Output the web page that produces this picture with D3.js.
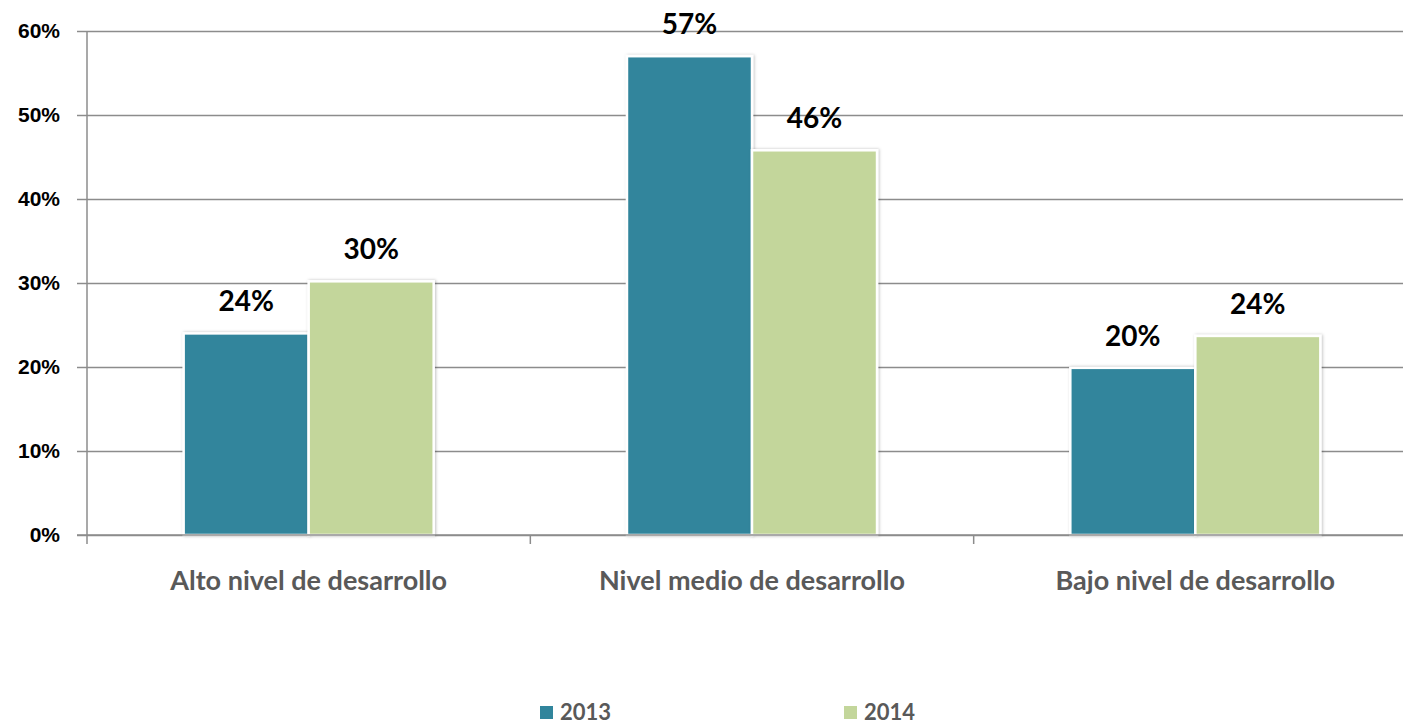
<!DOCTYPE html>
<html>
<head>
<meta charset="utf-8">
<script src="https://cdn.jsdelivr.net/npm/d3@7"></script>
<style>
  body { margin: 0; background: #fff; }
  svg { display: block; font-family: Lato, "Open Sans", sans-serif; }
</style>
</head>
<body>
<div id="chart"></div>
<script>
// categories and series
var categories = ["Alto nivel de desarrollo", "Nivel medio de desarrollo", "Bajo nivel de desarrollo"];
var seriesNames = ["2013", "2014"];
var values2013 = [0.24, 0.57, 0.199];
var values2014 = [0.302, 0.458, 0.237];
var yTicks = [0, 0.1, 0.2, 0.3, 0.4, 0.5, 0.6];
var colors = ["#31859c", "#c3d69b"];

var width = 1403, height = 728;
var margin = { left: 87, top: 31, bottom: 535, right: 1417 };

var svg = d3.select("#chart").append("svg")
  .attr("width", width)
  .attr("height", height);

// soft shadow for bars
var defs = svg.append("defs");
var f = defs.append("filter").attr("id", "shadow")
  .attr("x", "-10%").attr("y", "-10%").attr("width", "120%").attr("height", "120%");
f.append("feDropShadow").attr("dx", 1).attr("dy", 0).attr("stdDeviation", 1.5)
  .attr("flood-color", "#000").attr("flood-opacity", 0.25);

var y = d3.scaleLinear().domain([0, 0.6]).range([margin.bottom, margin.top]);

var x0 = d3.scaleBand().domain(categories)
  .range([margin.left, margin.right])
  .paddingInner(0.436).paddingOuter(0.218);

var x1 = d3.scaleBand().domain(seriesNames).range([0, x0.bandwidth()]);

// gridlines + y axis
var yAxis = d3.axisLeft(y).tickValues(yTicks).tickFormat(d3.format(".0%")).tickSize(10).tickPadding(17);
var gy = svg.append("g").attr("transform", "translate(" + margin.left + ",0)").call(yAxis);
gy.select(".domain").remove();
gy.selectAll(".tick line").attr("stroke", "#8c8c8c").attr("stroke-width", 1.5);
gy.selectAll(".tick line").clone()
  .attr("x1", 0).attr("x2", width - margin.left)
  .attr("stroke", "#8c8c8c").attr("stroke-width", 1.5);
gy.selectAll(".tick text")
  .attr("font-size", 21).attr("font-weight", "bold").attr("fill", "#000");

// vertical axis line
svg.append("line")
  .attr("x1", margin.left).attr("x2", margin.left)
  .attr("y1", margin.top).attr("y2", margin.bottom + 9)
  .attr("stroke", "#8c8c8c").attr("stroke-width", 1.5);

// category boundary ticks
var step = x0.step();
svg.selectAll(".ctick").data(categories).enter().append("line")
  .attr("class", "ctick")
  .attr("x1", function (d, i) { return margin.left + (i + 1) * step; })
  .attr("x2", function (d, i) { return margin.left + (i + 1) * step; })
  .attr("y1", margin.bottom).attr("y2", margin.bottom + 9)
  .attr("stroke", "#8c8c8c").attr("stroke-width", 1.5);

// bars
var data = categories.map(function (c, i) {
  return { cat: c, vals: [values2013[i], values2014[i]] };
});

var groups = svg.selectAll(".grp").data(data).enter().append("g")
  .attr("class", "grp")
  .attr("transform", function (d) { return "translate(" + x0(d.cat) + ",0)"; });

groups.selectAll("rect").data(function (d) {
  return d.vals.map(function (v, j) { return { key: seriesNames[j], v: v, j: j }; });
}).enter().append("rect")
  .attr("x", function (d) { return x1(d.key); })
  .attr("width", x1.bandwidth())
  .attr("y", function (d) { return y(d.v); })
  .attr("height", function (d) { return y(0) - y(d.v); })
  .attr("fill", function (d) { return colors[d.j]; })
  .attr("stroke", "#fff").attr("stroke-width", 2.5)
  .attr("filter", "url(#shadow)");

groups.selectAll(".lbl").data(function (d) {
  return d.vals.map(function (v, j) { return { key: seriesNames[j], v: v }; });
}).enter().append("text")
  .attr("class", "lbl")
  .attr("x", function (d) { return x1(d.key) + x1.bandwidth() / 2; })
  .attr("y", function (d) { return y(d.v) - 22; })
  .attr("text-anchor", "middle")
  .attr("font-size", 28).attr("font-weight", "bold").attr("fill", "#000")
  .text(function (d) { return d3.format(".0%")(d.v); });

// x axis baseline (drawn over bars)
svg.append("line")
  .attr("x1", margin.left - 10).attr("x2", width)
  .attr("y1", margin.bottom).attr("y2", margin.bottom)
  .attr("stroke", "#8c8c8c").attr("stroke-width", 1.5);

// category labels
svg.selectAll(".cat").data(categories).enter().append("text")
  .attr("class", "cat")
  .attr("x", function (d) { return x0(d) + x0.bandwidth() / 2; })
  .attr("y", 590)
  .attr("text-anchor", "middle")
  .attr("font-size", 27).attr("font-weight", "bold").attr("fill", "#595959")
  .text(function (d) { return d; });

// legend
var legX = [540, 844];
var leg = svg.selectAll(".leg").data(seriesNames).enter().append("g")
  .attr("class", "leg")
  .attr("transform", function (d, i) { return "translate(" + legX[i] + ",706)"; });
leg.append("rect").attr("width", 13).attr("height", 13)
  .attr("fill", function (d, i) { return colors[i]; });
leg.append("text").attr("x", 20).attr("y", 14)
  .attr("font-size", 22).attr("font-weight", "bold").attr("fill", "#595959")
  .text(function (d) { return d; });
</script>
</body>
</html>
